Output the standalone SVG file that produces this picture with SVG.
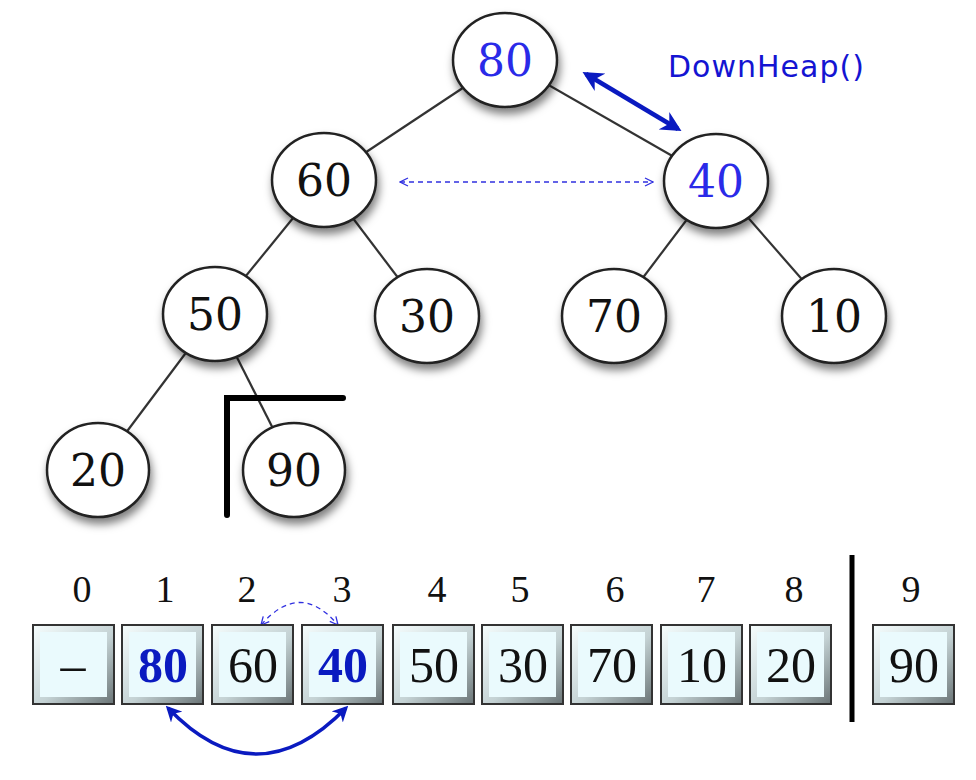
<svg xmlns="http://www.w3.org/2000/svg" width="976" height="780" viewBox="0 0 976 780">
<defs>
<filter id="sh" x="-30%" y="-30%" width="160%" height="170%">
<feDropShadow dx="2" dy="6" stdDeviation="4" flood-color="#000" flood-opacity="0.5"/>
</filter>
<linearGradient id="bev" x1="0" y1="0" x2="1" y2="1">
<stop offset="0" stop-color="#f6fdfd"/>
<stop offset="0.55" stop-color="#c4d2d4"/>
<stop offset="1" stop-color="#6a7476"/>
</linearGradient>
<marker id="ah" viewBox="0 0 10 10" refX="8" refY="5" markerWidth="4.5" markerHeight="4.5" orient="auto-start-reverse">
<path d="M0,0 L10,5 L0,10 L3,5 Z" fill="#0a1ac0"/>
</marker>
<marker id="ao" viewBox="0 0 10 10" refX="9" refY="5" markerWidth="10" markerHeight="10" orient="auto-start-reverse" markerUnits="userSpaceOnUse">
<path d="M1,1 L9,5 L1,9" fill="none" stroke="#3030e0" stroke-width="1.3"/>
</marker>
</defs>
<style>
.edge{stroke:#333;stroke-width:2.2;fill:none}
.node ellipse{fill:#fff;stroke:#222;stroke-width:2.5}
.nt{font-family:"DejaVu Serif","Liberation Serif",serif;font-size:44px;text-anchor:middle;fill:#111}
.blue{fill:#2a2ae8}
.idx{font-family:"Liberation Serif",serif;font-size:38px;text-anchor:middle;fill:#111}
.bv{font-family:"Liberation Serif",serif;font-size:50px;text-anchor:middle;fill:#111}
.bb{font-weight:bold;fill:#0a1ac0}
.box .o{fill:url(#bev);stroke:#333;stroke-width:2}
.box .i{fill:#eafafd}
</style>
<rect width="976" height="780" fill="#fff"/>
<g id="connectors">
<line class="edge" x1="505" y1="60" x2="324" y2="180"/>
<line class="edge" x1="505" y1="60" x2="716" y2="181"/>
<line class="edge" x1="324" y1="180" x2="215" y2="314"/>
<line class="edge" x1="324" y1="180" x2="427" y2="316"/>
<line class="edge" x1="716" y1="181" x2="614" y2="316"/>
<line class="edge" x1="716" y1="181" x2="834" y2="316"/>
<line class="edge" x1="215" y1="314" x2="98" y2="470"/>
<line class="edge" x1="215" y1="314" x2="294" y2="470"/>
<line x1="586" y1="74" x2="678" y2="129" stroke="#0a1ac0" stroke-width="4.5" marker-start="url(#ah)" marker-end="url(#ah)"/>
<line x1="400" y1="182" x2="653" y2="182" stroke="#3030e0" stroke-width="1.3" stroke-dasharray="5,4" marker-start="url(#ao)" marker-end="url(#ao)"/>
<path d="M261,625 Q300,580 338,625" fill="none" stroke="#3030e0" stroke-width="1.3" stroke-dasharray="5,4" marker-start="url(#ao)" marker-end="url(#ao)"/>
<path d="M168,708 Q256,800 346,708" fill="none" stroke="#0a1ac0" stroke-width="3.5" marker-start="url(#ah)" marker-end="url(#ah)"/>
</g>
<g id="n80" class="node"><ellipse cx="505" cy="60" rx="52" ry="47" filter="url(#sh)"/><text class="nt blue" x="505" y="76">80</text></g>
<g id="n60" class="node"><ellipse cx="324" cy="180" rx="52" ry="47" filter="url(#sh)"/><text class="nt" x="324" y="196">60</text></g>
<g id="n40" class="node"><ellipse cx="716" cy="181" rx="52" ry="47" filter="url(#sh)"/><text class="nt blue" x="716" y="197">40</text></g>
<g id="n50" class="node"><ellipse cx="215" cy="314" rx="52" ry="47" filter="url(#sh)"/><text class="nt" x="215" y="330">50</text></g>
<g id="n30" class="node"><ellipse cx="427" cy="316" rx="52" ry="47" filter="url(#sh)"/><text class="nt" x="427" y="332">30</text></g>
<g id="n70" class="node"><ellipse cx="614" cy="316" rx="52" ry="47" filter="url(#sh)"/><text class="nt" x="614" y="332">70</text></g>
<g id="n10" class="node"><ellipse cx="834" cy="316" rx="52" ry="47" filter="url(#sh)"/><text class="nt" x="834" y="332">10</text></g>
<g id="n20" class="node"><ellipse cx="98" cy="470" rx="51" ry="47" filter="url(#sh)"/><text class="nt" x="98" y="486">20</text></g>
<g id="n90" class="node"><ellipse cx="294" cy="470" rx="51" ry="47" filter="url(#sh)"/><text class="nt" x="294" y="486">90</text></g>
<path d="M227,515 L227,398 L343,398" fill="none" stroke="#000" stroke-width="6" stroke-linecap="round"/>
<text x="668" y="77" font-family="'DejaVu Sans',Verdana,sans-serif" font-size="30" letter-spacing="1" fill="#1414d2">DownHeap()</text>
<g id="indices">
<text class="idx" x="82" y="602">0</text>
<text class="idx" x="165" y="602">1</text>
<text class="idx" x="247" y="602">2</text>
<text class="idx" x="342" y="602">3</text>
<text class="idx" x="437" y="602">4</text>
<text class="idx" x="520" y="602">5</text>
<text class="idx" x="615" y="602">6</text>
<text class="idx" x="706" y="602">7</text>
<text class="idx" x="794" y="602">8</text>
<text class="idx" x="911" y="602">9</text>
</g>
<g id="b0" class="box"><rect class="o" x="33" y="625" width="81" height="79"/><rect class="i" x="40" y="632" width="67" height="65"/><text class="bv" x="73" y="682">–</text></g>
<g id="b1" class="box"><rect class="o" x="122" y="625" width="81" height="79"/><rect class="i" x="129" y="632" width="67" height="65"/><text class="bv bb" x="163" y="682">80</text></g>
<g id="b2" class="box"><rect class="o" x="212" y="625" width="81" height="79"/><rect class="i" x="219" y="632" width="67" height="65"/><text class="bv" x="253" y="682">60</text></g>
<g id="b3" class="box"><rect class="o" x="302" y="625" width="81" height="79"/><rect class="i" x="309" y="632" width="67" height="65"/><text class="bv bb" x="343" y="682">40</text></g>
<g id="b4" class="box"><rect class="o" x="393" y="625" width="81" height="79"/><rect class="i" x="400" y="632" width="67" height="65"/><text class="bv" x="434" y="682">50</text></g>
<g id="b5" class="box"><rect class="o" x="482" y="625" width="81" height="79"/><rect class="i" x="489" y="632" width="67" height="65"/><text class="bv" x="523" y="682">30</text></g>
<g id="b6" class="box"><rect class="o" x="571" y="625" width="81" height="79"/><rect class="i" x="578" y="632" width="67" height="65"/><text class="bv" x="612" y="682">70</text></g>
<g id="b7" class="box"><rect class="o" x="661" y="625" width="81" height="79"/><rect class="i" x="668" y="632" width="67" height="65"/><text class="bv" x="702" y="682">10</text></g>
<g id="b8" class="box"><rect class="o" x="750" y="625" width="81" height="79"/><rect class="i" x="757" y="632" width="67" height="65"/><text class="bv" x="791" y="682">20</text></g>
<g id="b9" class="box"><rect class="o" x="873" y="625" width="81" height="79"/><rect class="i" x="880" y="632" width="67" height="65"/><text class="bv" x="914" y="682">90</text></g>
<line x1="852" y1="555" x2="852" y2="722" stroke="#000" stroke-width="5"/>
</svg>
